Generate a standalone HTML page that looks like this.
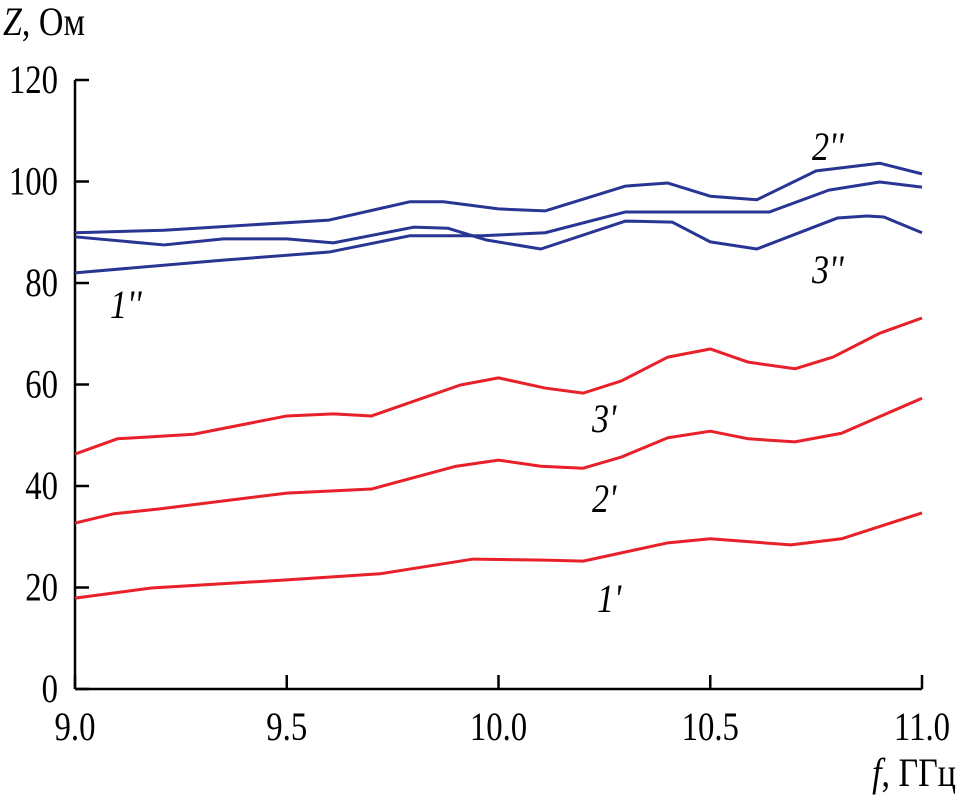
<!DOCTYPE html>
<html><head><meta charset="utf-8"><style>
html,body{margin:0;padding:0;background:#fff;}
svg{display:block;font-family:"Liberation Serif",serif;}
</style></head><body>
<svg id="chart" width="957" height="801" viewBox="0 0 957 801" xmlns="http://www.w3.org/2000/svg">
<g id="axes"></g>
<g id="series"></g>
<text transform="translate(3,35) scale(0.85,1)" font-size="40"><tspan font-style="italic">Z</tspan>, Ом</text>
<text transform="translate(956,786) scale(0.85,1)" font-size="40" text-anchor="end"><tspan font-style="italic">f</tspan>, ГГц</text>
<text transform="translate(812,160) scale(0.85,1)" font-size="40" font-style="italic">2''</text>
<text transform="translate(812,283) scale(0.85,1)" font-size="40" font-style="italic">3''</text>
<text transform="translate(110,318) scale(0.85,1)" font-size="40" font-style="italic">1''</text>
<text transform="translate(592,432) scale(0.85,1)" font-size="40" font-style="italic">3'</text>
<text transform="translate(592,512) scale(0.85,1)" font-size="40" font-style="italic">2'</text>
<text transform="translate(597,612) scale(0.85,1)" font-size="40" font-style="italic">1'</text>
</svg>
<script>
const xTicks=[9.0,9.5,10.0,10.5,11.0];
const xTickLabels=["9.0","9.5","10.0","10.5","11.0"];
const yTicks=[0,20,40,60,80,100,120];
const f2pp=[9.0,9.21,9.60,9.79,9.87,10.0,10.11,10.30,10.40,10.50,10.61,10.75,10.90,11.0];
const z2pp=[89.9,90.4,92.4,96.0,96.0,94.6,94.2,99.1,99.7,97.1,96.4,102.1,103.6,101.5];
const f1pp=[9.0,9.35,9.60,9.79,9.96,10.11,10.30,10.48,10.64,10.78,10.90,11.0];
const z1pp=[82.0,84.5,86.1,89.3,89.3,89.9,94.0,94.0,94.0,98.3,99.9,98.9];
const f3pp=[9.0,9.21,9.35,9.50,9.61,9.80,9.88,9.97,10.10,10.30,10.41,10.50,10.61,10.80,10.87,10.91,11.0];
const z3pp=[89.1,87.5,88.7,88.7,87.9,91.0,90.8,88.5,86.7,92.2,92.0,88.1,86.7,92.8,93.2,93.0,89.9];
const f3p=[9.0,9.10,9.28,9.50,9.61,9.70,9.91,10.0,10.11,10.20,10.29,10.40,10.50,10.59,10.70,10.79,10.90,11.0];
const z3p=[46.3,49.3,50.2,53.8,54.2,53.8,59.9,61.3,59.3,58.3,60.7,65.4,67.0,64.4,63.1,65.4,70.1,73.1];
const f2p=[9.0,9.09,9.20,9.50,9.70,9.90,10.0,10.10,10.20,10.29,10.40,10.50,10.59,10.70,10.81,11.0];
const z2p=[32.7,34.5,35.5,38.6,39.4,43.9,45.1,43.9,43.5,45.7,49.5,50.8,49.3,48.7,50.4,57.3];
const f1p=[9.0,9.18,9.50,9.72,9.94,10.11,10.20,10.40,10.50,10.69,10.81,11.0];
const z1p=[17.9,19.9,21.5,22.7,25.6,25.4,25.2,28.8,29.6,28.4,29.6,34.7];
const NS="http://www.w3.org/2000/svg";
const X0=75,X1=922,Y0=689,Y1=80;
function xs(f){return X0+(f-9)/2*(X1-X0);}
function ys(z){return Y0-z/120*(Y0-Y1);}
function mk(tag,attrs,parent){const e=document.createElementNS(NS,tag);for(const k in attrs)e.setAttribute(k,attrs[k]);parent.appendChild(e);return e;}
const ax=document.getElementById('axes');
let e=mk('line',{x1:X0,y1:Y0,x2:X1,y2:Y0,stroke:'#000','stroke-width':2.5},ax);


e=mk('line',{x1:X0,y1:Y0,x2:X0,y2:Y1,stroke:'#000','stroke-width':2.5},ax);


xTicks.forEach((t,i)=>{
  const x=xs(t);
  const l=mk('line',{x1:x,y1:Y0,x2:x,y2:Y0-14,stroke:'#000','stroke-width':2.5},ax);
  
  
  const tx=mk('text',{transform:'translate('+x+',740) scale(0.82,1)','font-size':40,'text-anchor':'middle'},ax);
  tx.textContent=xTickLabels[i];
  
  
});
yTicks.forEach(t=>{
  const y=ys(t);
  const l=mk('line',{x1:X0,y1:y,x2:X0+14,y2:y,stroke:'#000','stroke-width':2.5},ax);
  
  
  const tx=mk('text',{transform:'translate(58,'+(y+13)+') scale(0.82,1)','font-size':40,'text-anchor':'end'},ax);
  tx.textContent=String(t);
  
  
});
const sg=document.getElementById('series');
function line(fa,za,color,name){
  const p=mk('polyline',{points:fa.map((f,i)=>xs(f)+','+ys(za[i])).join(' '),fill:'none',stroke:color,'stroke-width':3,'stroke-linejoin':'round'},sg);
  
  
}
line(f2pp,z2pp,'#283593','series-2pp');
line(f1pp,z1pp,'#283593','series-1pp');
line(f3pp,z3pp,'#283593','series-3pp');
line(f3p,z3p,'#e8202a','series-3p');
line(f2p,z2p,'#e8202a','series-2p');
line(f1p,z1p,'#e8202a','series-1p');
</script>
</body></html>
